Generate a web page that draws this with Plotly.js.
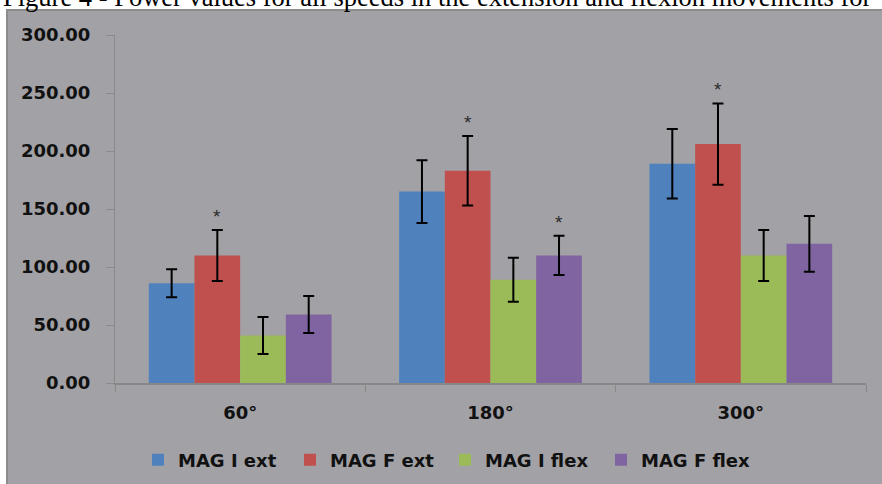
<!DOCTYPE html>
<html>
<head>
<meta charset="utf-8">
<script src="https://cdn.plot.ly/plotly-3.0.1.min.js"></script>
<style>
  html, body { margin: 0; padding: 0; background: #ffffff; }
  #chart { width: 882px; height: 484px; }
</style>
</head>
<body>
<div id="chart"></div>
<script>
// ---- data ----
const categories = ['60°', '180°', '300°'];
const seriesNames = ['MAG I ext', 'MAG F ext', 'MAG I flex', 'MAG F flex'];
const magIext   = [86, 165, 189];
const magIextSd = [12, 27, 30];
const magFext   = [110, 183, 206];
const magFextSd = [22, 30, 35];
const magIflex   = [41, 89, 110];
const magIflexSd = [16, 19, 22];
const magFflex   = [59, 110, 120];
const magFflexSd = [16, 17, 24];
// significance markers (*) per series
const magFextSig  = [true, true, true];
const magFflexSig = [false, true, false];
const yTickVals = [0, 50, 100, 150, 200, 250, 300];
const titleText = 'Figure 4 - Power values for all speeds in the extension and flexion movements for';

// ---- styling ----
const colors = ['#4f81bd', '#c0504d', '#9bbb59', '#8064a2'];
const legendWidths = [107, 110, 111, 115];
const bg = 'rgb(162,161,166)';
const W = 882, H = 484;
const M = {l: 115, r: 16, t: 35, b: 101};
const plotW = W - M.l - M.r, plotH = H - M.t - M.b;
const px2x = p => (p - M.l) / plotW;
const px2y = p => (H - M.b - p) / plotH;
const font = 'DejaVu Sans';
const bargap = 0.27;
const nSeries = 4;
const barW = (1 - bargap) / nSeries;
const offsetOf = i => (i - (nSeries - 1) / 2) * barW;

const values = [magIext, magFext, magIflex, magFflex];
const sds = [magIextSd, magFextSd, magIflexSd, magFflexSd];
const sigs = [null, magFextSig, null, magFflexSig];

const traces = values.map((v, i) => ({
  type: 'bar',
  name: seriesNames[i],
  x: categories,
  y: v,
  legendwidth: legendWidths[i],
  marker: {color: colors[i], line: {width: 0}},
  error_y: {type: 'data', array: sds[i], visible: true, color: '#000000', thickness: 2, width: 5.5},
  hoverinfo: 'x+y'
}));

const annotations = [];
sigs.forEach((s, i) => {
  if (!s) return;
  s.forEach((flag, c) => {
    if (!flag) return;
    annotations.push({
      xref: 'x', yref: 'y',
      x: c + offsetOf(i), y: values[i][c] + sds[i][c],
      text: '*', showarrow: false,
      xanchor: 'center', yanchor: 'bottom', yshift: 1,
      font: {family: 'Liberation Sans', size: 19, color: '#2a2a2a'}
    });
  });
});
annotations.push({
  xref: 'paper', yref: 'paper',
  x: px2x(1), y: px2y(14),
  xanchor: 'left', yanchor: 'bottom',
  text: titleText, showarrow: false,
  font: {family: 'Liberation Serif', size: 26.5, color: '#000000'}
});

const layout = {
  width: W, height: H,
  margin: M,
  paper_bgcolor: '#ffffff',
  plot_bgcolor: 'rgba(0,0,0,0)',
  barmode: 'group',
  bargap: bargap,
  bargroupgap: 0,
  showlegend: true,
  legend: {
    orientation: 'h',
    xref: 'container', yref: 'container',
    x: 138 / W, xanchor: 'left',
    y: 1 - 460 / H, yanchor: 'middle',
    bgcolor: 'rgba(0,0,0,0)',
    font: {family: font, size: 18, color: '#111111', weight: 'bold'}
  },
  xaxis: {
    type: 'category',
    automargin: false,
    showgrid: false,
    showline: true, linecolor: '#878787', linewidth: 2,
    ticks: 'outside', tickson: 'boundaries', ticklen: 7, tickcolor: '#878787', tickwidth: 1,
    ticklabelstandoff: 12,
    tickfont: {family: font, size: 18, color: '#111111', weight: 'bold'},
    zeroline: false
  },
  yaxis: {
    range: [0, 300],
    automargin: false,
    tickvals: yTickVals,
    tickformat: '.2f',
    showgrid: false,
    showline: true, linecolor: '#8a8a8a', linewidth: 1,
    ticks: 'outside', ticklen: 8, tickcolor: '#8a8a8a', tickwidth: 1,
    ticklabelstandoff: 12,
    tickfont: {family: font, size: 18, color: '#111111', weight: 'bold'},
    zeroline: false
  },
  shapes: [{
    type: 'rect', xref: 'paper', yref: 'paper', layer: 'below',
    x0: px2x(7), x1: px2x(900), y0: px2y(500), y1: px2y(10),
    fillcolor: bg, line: {color: '#8c8c8c', width: 2}
  }],
  annotations: annotations
};

Plotly.newPlot('chart', traces, layout, {displayModeBar: false, staticPlot: true});
</script>
</body>
</html>
